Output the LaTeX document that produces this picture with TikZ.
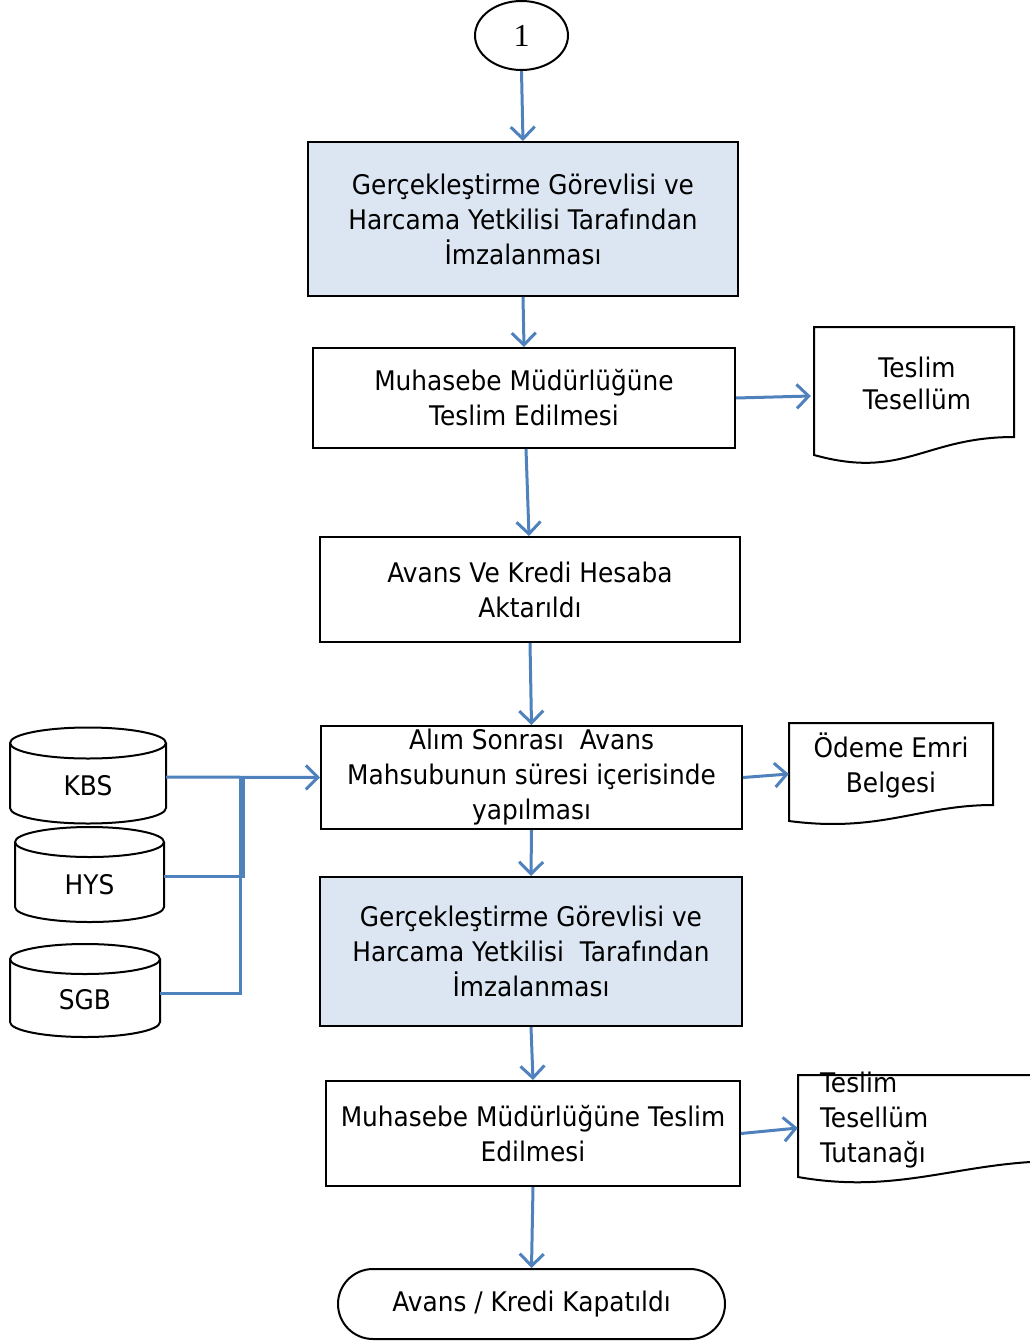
\documentclass[tikz,border=0pt]{standalone}
\usepackage{fontspec}
\setmainfont{DejaVu Sans}[FakeStretch=0.92]
\newfontfamily\numfont{Liberation Serif}
\usetikzlibrary{arrows.meta,shapes.geometric,shapes.misc,calc}
\definecolor{boxblue}{HTML}{DCE6F2}
\definecolor{arrowblue}{HTML}{4F81BD}
\begin{document}
\begin{tikzpicture}[x=1pt,y=-1pt,
  every node/.style={font=\fontsize{27}{35}\selectfont, inner sep=0pt},
  proc/.style={draw, line width=2pt, rectangle, align=center},
  shadedbox/.style={proc, fill=boxblue},
  conn/.style={draw=arrowblue, line width=3pt, -{Straight Barb[length=12pt,width=24pt]}},
  link/.style={draw=arrowblue, line width=3pt},
  outline/.style={draw, line width=2pt},
  doctext/.style={align=center}]
\useasboundingbox (0,0) rectangle (1029,1341);

% start
\node[draw, ellipse, line width=2pt, minimum width=93pt, minimum height=69pt,
      font=\numfont\fontsize{32}{34}\selectfont] (start) at (521.5,35.5) {1};

% process boxes
\node[shadedbox, minimum width=430pt, minimum height=154pt] (b1) at (523,219)
  {Gerçekleştirme Görevlisi ve\\Harcama Yetkilisi Tarafından\\İmzalanması};
\node[proc, minimum width=422pt, minimum height=100pt] (b2) at (524,398)
  {Muhasebe Müdürlüğüne\\Teslim Edilmesi};
\node[proc, minimum width=420pt, minimum height=105pt] (b3) at (530,589.5)
  {Avans Ve Kredi Hesaba\\Aktarıldı};
\node[proc, minimum width=421pt, minimum height=103pt] (b4) at (531.5,777.5)
  {Alım Sonrası\ \ Avans\\Mahsubunun süresi içerisinde\\yapılması};
\node[shadedbox, minimum width=422pt, minimum height=149pt] (b5) at (531,951.5)
  {Gerçekleştirme Görevlisi ve\\Harcama Yetkilisi\ \ Tarafından\\İmzalanması};
\node[proc, minimum width=414pt, minimum height=105pt] (b6) at (533,1133.5)
  {Muhasebe Müdürlüğüne Teslim\\Edilmesi};
\node[draw, line width=2pt, rounded rectangle, minimum width=387pt, minimum height=70pt]
  (end) at (531.5,1304) {Avans / Kredi Kapatıldı};

% documents
\draw[outline] (814,327) -- (1014,327) -- (1014,437)
  .. controls (924,437) and (904,480) .. (814,455) -- cycle;
\node[doctext, minimum width=206pt, font=\fontsize{27}{32}\selectfont] (d1) at (917,383) {Teslim\\Tesellüm};

\draw[outline] (789,723) -- (993,723) -- (993,805)
  .. controls (920,805) and (880,833) .. (789,821) -- cycle;
\node[doctext, minimum width=204pt] (d2) at (891,765) {Ödeme Emri\\Belgesi};

\draw[outline] (798,1075) -- (1060,1075) -- (1060,1161)
  .. controls (960,1161) and (900,1195) .. (798,1177) -- cycle;
\node[align=left, text width=187pt] (d3) at (913.5,1120) {Teslim\\Tesellüm\\Tutanağı};

% databases
\draw[outline] (10,743) -- (10,808) arc[start angle=180, end angle=360, x radius=78pt, y radius=15.5pt] -- (166,743);
\draw[outline] (88,743) ellipse[x radius=78pt, y radius=15.5pt];
\node[minimum width=156pt] (kbs) at (88,786) {KBS};

\draw[outline] (15,842) -- (15,907) arc[start angle=180, end angle=360, x radius=74.5pt, y radius=15pt] -- (164,842);
\draw[outline] (89.5,842) ellipse[x radius=74.5pt, y radius=15pt];
\node[minimum width=149pt] (hys) at (89.5,885) {HYS};

\draw[outline] (10,959) -- (10,1022) arc[start angle=180, end angle=360, x radius=75pt, y radius=15pt] -- (160,959);
\draw[outline] (85,959) ellipse[x radius=75pt, y radius=15pt];
\node[minimum width=150pt] (sgb) at (85,1000) {SGB};

% connectors
\draw[conn] (start.south) -- (b1.north);
\draw[conn] (b1.south) -- (b2.north);
\draw[conn] ([xshift=2pt]b2.south) -- ([xshift=-1pt]b3.north);
\draw[conn] (b3.south) -- (b4.north);
\draw[conn] (b4.south) -- (b5.north);
\draw[conn] (b5.south) -- (b6.north);
\draw[conn] (b6.south) -- (end.north);

\draw[conn] (b2.east) -- ([xshift=-3pt,yshift=-13pt]d1.west);
\draw[conn] (b4.east) -- ([yshift=-9pt]d2.west);
\draw[conn] (b6.east) -- ([xshift=-22pt,yshift=-8pt]d3.west);

\coordinate (j1) at (243,777);
\coordinate (j2) at (240,777);
\draw[conn] ([yshift=9pt]kbs.east) -- (b4.west);
\draw[link] ([yshift=9pt]hys.east) -| (j1);
\draw[link] ([yshift=7pt]sgb.east) -| (j2);
\end{tikzpicture}
\end{document}
